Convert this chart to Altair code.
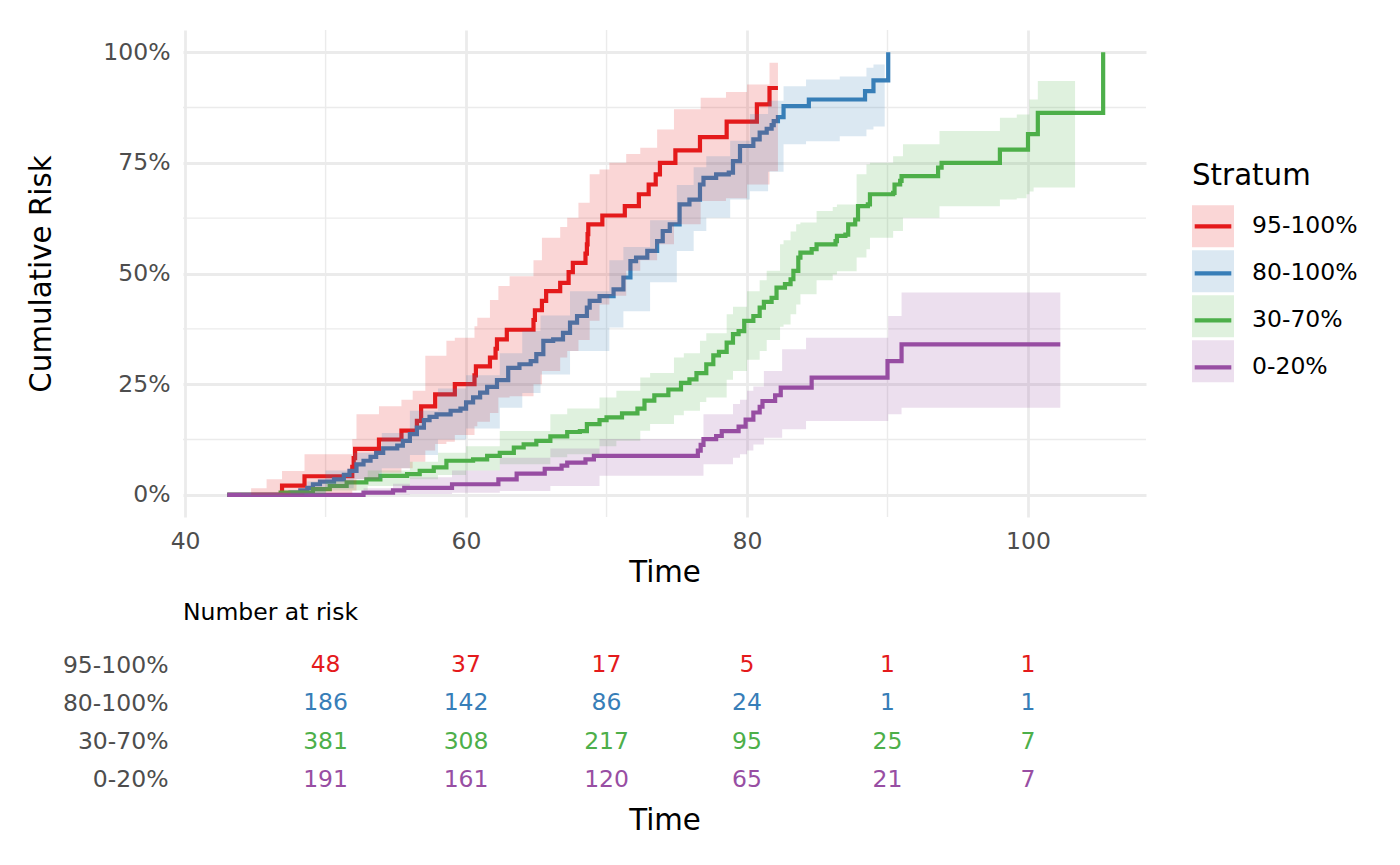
import altair as alt
import pandas as pd

FONT = "DejaVu Sans"
GRID = "#EBEBEB"
AXIS_TEXT = "#4D4D4D"

strata = ["95-100%", "80-100%", "30-70%", "0-20%"]
colors = ["#E41A1C", "#377EB8", "#4DAF4A", "#984EA3"]

# ---- cumulative risk step curves (time, percent) ----
red_t = [43.0, 46.9, 48.5, 51.9, 52.0, 52.1, 53.8, 55.4, 56.5, 56.8, 57.8, 59.2, 60.6, 60.7, 61.7, 62.1, 62.2,
         62.9, 64.8, 64.9, 65.4, 65.7, 66.7, 67.3, 67.6, 68.5, 68.6, 68.65, 68.7, 69.7, 71.3, 72.3, 73.0, 73.5,
         73.8, 74.9, 76.65, 78.55, 80.7, 81.6, 82.2]
red_r = [0.0, 2.1, 4.2, 6.3, 8.3, 10.4, 12.5, 14.5, 16.7, 20.0, 22.7, 25.0, 27.0, 29.0, 31.0, 33.0, 35.1,
         37.3, 39.5, 41.7, 43.8, 46.0, 47.9, 50.3, 52.4, 54.5, 56.6, 58.9, 61.1, 63.1, 65.2, 67.9, 70.1, 72.4,
         75.0, 77.8, 80.8, 84.3, 88.2, 91.9, 91.9]

blue_t = [43.0, 47.5, 48.2, 48.7, 49.1, 49.6, 50.6, 51.3, 51.7, 52.2,
          52.7, 53.2, 53.6, 54.1, 55.1, 55.5, 56.0, 56.5, 57.0, 57.4,
          57.9, 58.9, 59.6, 60.0, 60.5, 61.0, 61.5, 62.2, 63.0, 63.8,
          64.6, 65.0, 65.5, 66.2, 66.9, 67.4, 67.9, 68.6, 68.8, 69.5,
          70.5, 71.2, 71.7, 72.1, 72.9, 73.6, 74.0, 74.5, 75.2, 75.9,
          76.65, 76.9, 77.8, 78.7, 79.0, 79.5, 80.45, 80.9, 81.4, 81.75,
          81.9, 82.2, 82.6, 84.4, 88.4, 89.0, 90.05]
blue_r = [0.0, 0.5, 1.0, 1.6, 2.4, 3.0, 3.5, 4.5, 5.4, 6.9,
          7.7, 8.6, 9.5, 10.5, 11.1, 12.2, 13.7, 15.2, 16.9, 17.6,
          18.2, 19.0, 19.5, 20.9, 22.0, 23.1, 24.4, 25.9, 28.7, 29.5,
          30.2, 31.8, 34.8, 35.1, 36.6, 38.9, 40.4, 42.3, 43.8, 44.9,
          46.4, 49.1, 52.8, 53.6, 55.1, 57.3, 59.6, 61.1, 65.6, 66.7,
          70.1, 71.6, 72.4, 72.8, 75.4, 78.8, 80.3, 81.8, 82.7, 83.5,
          84.4, 85.3, 87.8, 89.3, 91.2, 93.6, 100.0]

green_t = [43.0, 46.8, 49.1, 50.3, 51.5, 52.9, 53.9, 55.8, 56.7, 57.7,
           58.6, 60.5, 61.5, 62.4, 63.4, 64.1, 65.0, 66.0, 67.2, 68.1,
           68.6, 69.5, 70.0, 71.1, 72.2, 72.7, 73.4, 74.4, 75.3, 75.9,
           76.4, 77.1, 77.6, 78.0, 78.55, 79.0, 79.4, 79.8, 80.45, 80.9,
           81.2, 81.75, 82.1, 82.7, 83.1, 83.3, 83.65, 83.8, 84.6, 84.95,
           86.3, 86.4, 87.0, 87.2, 87.7, 87.9, 88.6, 88.75, 90.4, 90.5,
           90.9, 91.0, 93.6, 93.85, 98.0, 100.0, 100.7, 105.35]
green_r = [0.0, 0.5, 1.3, 2.0, 2.8, 3.5, 4.3, 4.7, 5.4, 6.2,
           7.7, 8.0, 8.8, 9.5, 10.7, 11.4, 12.2, 13.2, 14.2, 14.4,
           16.0, 16.9, 17.5, 18.4, 19.5, 21.3, 22.5, 23.8, 25.3, 26.1,
           27.5, 29.5, 31.5, 32.3, 34.4, 36.3, 37.0, 39.3, 40.4, 42.3,
           43.6, 44.5, 46.8, 47.6, 48.7, 50.6, 53.6, 54.7, 55.5, 56.6,
           57.3, 58.5, 58.8, 61.1, 62.2, 65.2, 65.6, 67.9, 68.2, 70.1,
           70.9, 72.0, 73.9, 75.0, 78.0, 81.5, 86.3, 100.0]

purple_t = [43.0, 52.7, 54.8, 55.6, 59.0, 62.3, 63.6, 65.6, 66.8, 67.2,
            68.5, 69.1, 76.5, 76.7, 76.9, 77.8, 78.2, 79.4, 79.9, 80.45,
            80.9, 81.1, 82.0, 82.4, 84.6, 90.0, 91.0, 102.3]
purple_r = [0.0, 0.5, 1.0, 1.6, 2.4, 3.5, 4.8, 5.9, 6.6, 7.3,
            8.0, 8.8, 10.0, 11.3, 12.6, 13.3, 14.4, 15.4, 17.0, 18.6,
            19.9, 21.2, 22.5, 24.2, 26.5, 30.2, 34.0, 34.0]

# ---- confidence bands (time, lower %, upper %) ----
red_band_t = [43.0, 44.7, 45.8, 46.9, 48.5, 51.9, 52.2, 53.8, 55.4, 56.2,
              57.1, 57.8, 58.6, 59.2, 60.6, 60.8, 61.7, 62.3, 63.1, 64.8,
              65.4, 66.7, 67.2, 68.0, 68.8, 69.5, 70.2, 71.4, 72.4, 73.6,
              74.8, 76.7, 78.5, 80.0, 81.6, 82.2]
red_lo = [0, 0, 0, 0, 0.3, 1.0, 3.5, 5.0, 6.0, 7.5,
          10.0, 11.5, 12.0, 13.5, 15.5, 16.5, 18.5, 22.0, 22.3, 25.0,
          28.0, 31.0, 32.5, 35.0, 39.3, 43.0, 45.0, 50.6, 53.0, 56.6,
          61.1, 66.4, 67.0, 70.1, 73.1, 73.1]
red_hi = [0, 1.5, 3.5, 5.4, 9.2, 12.6, 18.2, 20.0, 21.5, 23.5,
          31.4, 31.4, 34.8, 35.5, 38.1, 40.0, 44.0, 47.2, 49.4, 53.0,
          58.1, 60.5, 62.6, 66.0, 72.4, 73.5, 75.0, 77.0, 78.4, 82.5,
          87.1, 89.7, 91.0, 92.7, 97.6, 97.6]

blue_band_t = [43.0, 47.5, 48.7, 50.0, 52.0, 54.0, 56.0, 58.0, 60.0, 62.4,
               64.0, 65.3, 67.4, 70.2, 71.2, 73.1, 75.0, 76.2, 77.1, 78.8,
               80.2, 81.5, 82.6, 84.2, 86.6, 88.5, 89.0, 89.8]
blue_lo = [0, 0, 0.2, 1.5, 3.5, 6.0, 9.0, 12.5, 15.0, 19.7,
           23.0, 27.2, 32.5, 37.8, 41.5, 48.0, 55.1, 59.6, 62.6, 66.7,
           68.6, 73.0, 79.2, 79.9, 81.0, 82.5, 83.2, 84.0]
blue_hi = [0, 1.0, 3.0, 5.5, 9.5, 14.0, 19.0, 24.0, 27.0, 32.0,
           37.0, 40.5, 46.0, 53.0, 56.0, 62.0, 70.0, 74.0, 76.5, 80.0,
           86.0, 89.0, 92.3, 93.8, 94.5, 96.5, 97.2, 97.2]

green_band_t = [43.0, 44.0, 47.0, 50.0, 53.0, 56.0, 58.0, 60.0, 62.4, 66.0,
                67.2, 69.5, 70.7, 72.4, 73.1, 74.8, 75.5, 76.65, 77.1, 78.55,
                79.0, 80.0, 80.9, 81.4, 82.35, 82.6, 83.1, 83.5, 83.8, 84.95,
                86.1, 86.4, 87.8, 88.5, 88.75, 90.4, 91.1, 93.7, 98.0, 99.2,
                99.9, 100.1, 100.4, 100.7, 103.35]
green_lo = [0, 0, 0.2, 1.0, 2.0, 3.5, 4.5, 5.5, 6.9, 8.5,
            9.2, 11.0, 12.2, 14.5, 16.0, 18.0, 19.0, 21.0, 22.0, 26.0,
            28.0, 30.5, 32.5, 35.0, 38.0, 38.5, 40.8, 43.0, 45.3, 48.5,
            49.8, 50.5, 53.6, 55.5, 58.1, 59.6, 62.6, 65.2, 66.7, 67.0,
            67.9, 68.5, 69.4, 69.4, 69.8]
green_hi = [0, 0.3, 1.0, 3.0, 5.5, 7.5, 9.5, 11.0, 14.4, 18.2,
            19.5, 22.0, 23.5, 26.5, 27.5, 31.0, 32.0, 34.8, 36.5, 40.8,
            42.5, 46.0, 48.5, 50.6, 56.6, 57.5, 59.5, 61.1, 61.5, 64.1,
            65.0, 65.6, 72.4, 74.6, 75.0, 76.5, 79.2, 82.2, 85.2, 85.9,
            85.9, 89.3, 89.3, 93.5, 93.5]

purple_band_t = [43.0, 52.7, 54.8, 56.0, 59.0, 62.4, 66.0, 69.5, 76.4, 76.9,
                 79.0, 79.5, 80.0, 80.45, 81.2, 82.5, 84.2, 90.05, 91.0, 102.3]
purple_lo = [0, 0, 0.1, 0.2, 0.5, 0.9, 2.0, 4.3, 4.3, 6.9,
             8.4, 9.2, 10.0, 11.4, 12.9, 14.8, 16.7, 18.2, 19.7, 19.7]
purple_hi = [0, 1.5, 2.5, 4.0, 5.5, 8.4, 10.5, 12.6, 12.6, 18.2,
             20.5, 21.5, 23.5, 24.5, 28.0, 32.9, 35.5, 40.4, 45.7, 45.7]

# ---- number at risk table ----
risk_times = [50, 60, 70, 80, 90, 100]
risk_95_100 = [48, 37, 17, 5, 1, 1]
risk_80_100 = [186, 142, 86, 24, 1, 1]
risk_30_70 = [381, 308, 217, 95, 25, 7]
risk_0_20 = [191, 161, 120, 65, 21, 7]

# ---- gridline positions ----
x_major = [40, 60, 80, 100]
x_minor = [50, 70, 90]
y_major = [0, 25, 50, 75, 100]
y_minor = [12.5, 37.5, 62.5, 87.5]

band_names = [s + " CI" for s in strata]


def step_frame(name, t, r):
    assert len(t) == len(r), name
    return pd.DataFrame({"t": t, "r": r, "Stratum": name})


def band_frame(name, t, lo, hi):
    assert len(t) == len(lo) == len(hi), name
    return pd.DataFrame({"t": t, "lo": lo, "hi": hi, "Band": name + " CI"})


lines_df = pd.concat([
    step_frame(strata[0], red_t, red_r),
    step_frame(strata[1], blue_t, blue_r),
    step_frame(strata[2], green_t, green_r),
    step_frame(strata[3], purple_t, purple_r),
], ignore_index=True)

bands_df = pd.concat([
    band_frame(strata[0], red_band_t, red_lo, red_hi),
    band_frame(strata[1], blue_band_t, blue_lo, blue_hi),
    band_frame(strata[2], green_band_t, green_lo, green_hi),
    band_frame(strata[3], purple_band_t, purple_lo, purple_hi),
], ignore_index=True)

risk_rows = [risk_95_100, risk_80_100, risk_30_70, risk_0_20]
table_df = pd.DataFrame([
    {"t": tt, "Stratum": s, "n": n}
    for s, row in zip(strata, risk_rows)
    for tt, n in zip(risk_times, row)
])

x_scale = alt.Scale(domain=[39.85, 108.4], nice=False, zero=False)
y_scale = alt.Scale(domain=[-5, 105], nice=False, zero=False)

x_axis = alt.Axis(values=x_major, title="Time", grid=True, gridColor=GRID, gridWidth=2.8,
                  domain=False, ticks=False, labelFont=FONT, labelFontSize=23.5,
                  labelColor=AXIS_TEXT, labelPadding=12, titleFont=FONT, titleFontSize=29.3,
                  titleFontWeight="normal", titleColor="black", titlePadding=6)
y_axis = alt.Axis(values=y_major, labelExpr="datum.value + '%'", title="Cumulative Risk",
                  grid=True, gridColor=GRID, gridWidth=2.8, domain=False, ticks=False,
                  labelFont=FONT, labelFontSize=23.5, labelColor=AXIS_TEXT, labelPadding=13,
                  titleFont=FONT, titleFontSize=29.3, titleFontWeight="normal",
                  titleColor="black", titlePadding=46)

LINE_W = 4.2
LEG_X = 1009
LEG_Y = 132
TITLE_BLOCK = 29.3 + 14  # title height + titlePadding

label_common = dict(labelFont=FONT, labelFontSize=23.5, labelColor="black",
                    labelOffset=18, rowPadding=3, padding=0, orient="none", legendX=LEG_X)

# line key: 37.8px-wide symbol box so that box + stroke gives the same 42px entry as the square key
stroke_legend = alt.Legend(title="Stratum", legendY=LEG_Y,
                           symbolType="M0,-0.667M0,0.667M-0.969,0L0.969,0",
                           symbolSize=1428, symbolStrokeWidth=LINE_W,
                           titleFont=FONT, titleFontSize=29.3, titleFontWeight="normal",
                           titleColor="black", titlePadding=14,
                           zindex=2, **label_common)
fill_legend = alt.Legend(title=None, legendY=LEG_Y + TITLE_BLOCK, symbolType="square",
                         symbolSize=1764, symbolStrokeWidth=0, labelExpr="''",
                         zindex=1, **label_common)

minor_v = alt.Chart(pd.DataFrame({"t": x_minor})).mark_rule(
    color=GRID, strokeWidth=1.4).encode(x=alt.X("t:Q", scale=x_scale, axis=x_axis))
minor_h = alt.Chart(pd.DataFrame({"v": y_minor})).mark_rule(
    color=GRID, strokeWidth=1.4).encode(y=alt.Y("v:Q", scale=y_scale, axis=y_axis))

lines = alt.Chart(lines_df).mark_line(interpolate="step-after", strokeWidth=LINE_W).encode(
    x=alt.X("t:Q", scale=x_scale, axis=x_axis),
    y=alt.Y("r:Q", scale=y_scale, axis=y_axis),
    stroke=alt.Stroke("Stratum:N", scale=alt.Scale(domain=strata, range=colors),
                      legend=stroke_legend),
)

bands = alt.Chart(bands_df).mark_area(interpolate="step-after", opacity=0.18).encode(
    x=alt.X("t:Q", scale=x_scale, axis=x_axis),
    y=alt.Y("lo:Q", scale=y_scale, axis=y_axis),
    y2="hi:Q",
    fill=alt.Fill("Band:N", scale=alt.Scale(domain=band_names, range=colors),
                  legend=fill_legend),
)

top = alt.layer(minor_v, minor_h, lines, bands).properties(width=963, height=487)

table = alt.Chart(table_df).mark_text(font=FONT, fontSize=23.5, baseline="middle",
                                      align="center").encode(
    x=alt.X("t:Q", scale=x_scale,
            axis=alt.Axis(title="Time", labels=False, ticks=False, domain=False, grid=False,
                          titleFont=FONT, titleFontSize=29.3, titleFontWeight="normal",
                          titleColor="black", titlePadding=7)),
    y=alt.Y("Stratum:N", scale=alt.Scale(domain=strata),
            axis=alt.Axis(title=None, ticks=False, domain=False, grid=False,
                          labelFont=FONT, labelFontSize=23.5, labelColor=AXIS_TEXT,
                          labelPadding=15)),
    text=alt.Text("n:Q"),
    color=alt.Color("Stratum:N", scale=alt.Scale(domain=strata, range=colors), legend=None),
).properties(width=963, height=153,
             title=alt.TitleParams("Number at risk", anchor="start", frame="group",
                                   font=FONT, fontSize=23.5, fontWeight="normal",
                                   color="black", offset=22))

chart = alt.vconcat(top, table, spacing=12).resolve_scale(
    color="independent", stroke="independent", fill="independent"
).resolve_legend(
    color="independent", stroke="independent", fill="independent"
).configure_view(strokeWidth=0).properties(
    padding={"left": 19, "top": 21, "right": 5, "bottom": 5},
    background="white",
)

chart.save("out.html", embed_options={"renderer": "svg", "actions": False})
